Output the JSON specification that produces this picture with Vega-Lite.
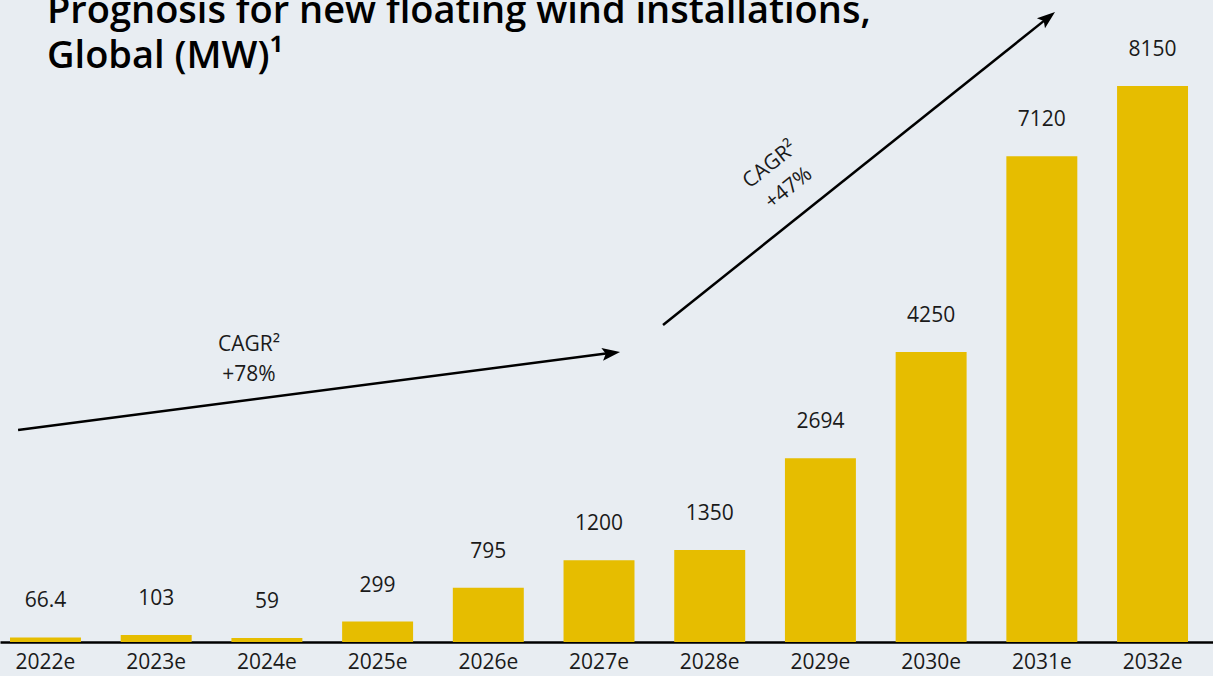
{
  "$schema": "https://vega.github.io/schema/vega-lite/v6.json",
  "width": 1213,
  "height": 572,
  "autosize": "none",
  "padding": {"left": 0, "top": 70, "right": 0, "bottom": 34},
  "background": "#e8edf2",
  "config": {"view": {"stroke": null}, "font": "Open Sans"},
  "title": {
    "text": ["Prognosis for new floating wind installations,", "Global (MW)¹"],
    "anchor": "start",
    "frame": "group",
    "orient": "top",
    "offset": -5,
    "dx": 47,
    "dy": 59,
    "fontSize": 38,
    "fontWeight": 600,
    "color": "#000000",
    "lineHeight": 45
  },
  "resolve": {"scale": {"x": "independent"}},
  "layer": [
    {
      "data": {"name": "installs", "values": [
        {"year": "2022e", "mw": 66.4},
        {"year": "2023e", "mw": 103},
        {"year": "2024e", "mw": 59},
        {"year": "2025e", "mw": 299},
        {"year": "2026e", "mw": 795},
        {"year": "2027e", "mw": 1200},
        {"year": "2028e", "mw": 1350},
        {"year": "2029e", "mw": 2694},
        {"year": "2030e", "mw": 4250},
        {"year": "2031e", "mw": 7120},
        {"year": "2032e", "mw": 8150}
      ]},
      "encoding": {
        "x": {
          "field": "year", "type": "nominal", "sort": null,
          "scale": {"paddingInner": 0.359, "paddingOuter": 0.158, "align": 0.286},
          "axis": {
            "title": null, "labelAngle": 0, "ticks": false,
            "domainColor": "#000000", "domainWidth": 2.5,
            "labelFontSize": 21, "labelColor": "#1a1a1a", "labelPadding": 9,
            "labelFont": "Open Sans"
          }
        },
        "y": {
          "field": "mw", "type": "quantitative",
          "scale": {"domain": [0, 8385], "nice": false},
          "axis": null
        }
      },
      "layer": [
        {"mark": {"type": "bar", "color": "#e6bd00"}},
        {
          "mark": {"type": "text", "baseline": "alphabetic", "dy": -30, "fontSize": 21, "color": "#1a1a1a"},
          "encoding": {"text": {"field": "mw", "type": "quantitative", "format": "~g"}}
        }
      ]
    },
    {
      "data": {"values": [
        {"i1": -0.248, "v1": 3108, "i2": 5.08, "v2": 4232},
        {"i1": 5.578, "v1": 4647, "i2": 9.03, "v2": 9120}
      ]},
      "mark": {"type": "rule", "color": "#000000", "strokeWidth": 2.5},
      "encoding": {
        "x": {"field": "i1", "type": "quantitative", "scale": {"domain": [-0.411, 10.546], "nice": false, "zero": false}, "axis": null},
        "y": {"field": "v1", "type": "quantitative"},
        "x2": {"field": "i2"},
        "y2": {"field": "v2"}
      }
    },
    {
      "data": {"values": [{"i": 5.19, "v": 4251}]},
      "mark": {"type": "point", "filled": true, "color": "#000000", "opacity": 1, "size": 324, "angle": -7.4, "shape": "M 0 0 L -2 -0.72 L -1.6 0 L -2 0.72 Z"},
      "encoding": {
        "x": {"field": "i", "type": "quantitative", "scale": {"domain": [-0.411, 10.546], "nice": false, "zero": false}, "axis": null},
        "y": {"field": "v", "type": "quantitative"}
      }
    },
    {
      "data": {"values": [{"i": 9.119, "v": 9235}]},
      "mark": {"type": "point", "filled": true, "color": "#000000", "opacity": 1, "size": 324, "angle": -38.6, "shape": "M 0 0 L -2 -0.72 L -1.6 0 L -2 0.72 Z"},
      "encoding": {
        "x": {"field": "i", "type": "quantitative", "scale": {"domain": [-0.411, 10.546], "nice": false, "zero": false}, "axis": null},
        "y": {"field": "v", "type": "quantitative"}
      }
    },
    {
      "data": {"values": [{"i": 1.838, "v": 4354, "note": "CAGR²\n+78%"}]},
      "mark": {"type": "text", "lineBreak": "\n", "fontSize": 21, "color": "#1a1a1a", "align": "center", "baseline": "middle", "lineHeight": 30},
      "encoding": {
        "x": {"field": "i", "type": "quantitative", "scale": {"domain": [-0.411, 10.546], "nice": false, "zero": false}, "axis": null},
        "y": {"field": "v", "type": "quantitative"},
        "text": {"field": "note"}
      }
    },
    {
      "data": {"values": [{"i": 6.545, "v": 6992, "note": "CAGR²\n+47%"}]},
      "mark": {"type": "text", "lineBreak": "\n", "fontSize": 21, "color": "#1a1a1a", "align": "center", "baseline": "middle", "lineHeight": 30, "angle": -38.6},
      "encoding": {
        "x": {"field": "i", "type": "quantitative", "scale": {"domain": [-0.411, 10.546], "nice": false, "zero": false}, "axis": null},
        "y": {"field": "v", "type": "quantitative"},
        "text": {"field": "note"}
      }
    }
  ]
}
